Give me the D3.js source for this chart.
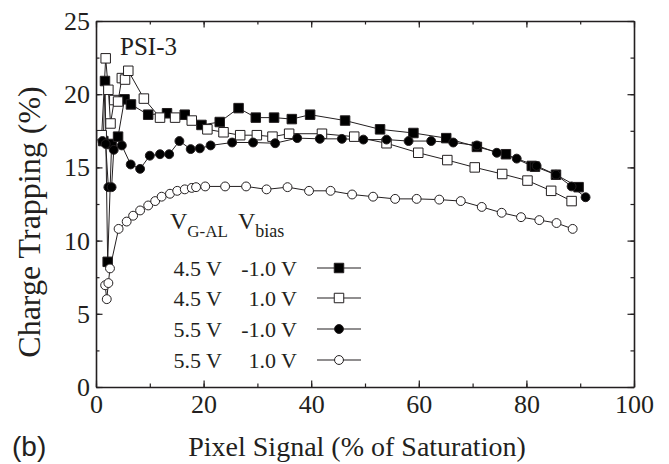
<!DOCTYPE html>
<html><head><meta charset="utf-8">
<script src="https://cdn.jsdelivr.net/npm/d3@7"></script>
<style>body{margin:0;background:#fff}svg{display:block}
svg text{font-family:"Liberation Serif","Times New Roman","DejaVu Serif",serif}
svg text.sans{font-family:"Liberation Sans",Arial,sans-serif}</style>
</head><body>
<svg id="c" width="669" height="464"></svg>
<script>
// 4.5 V, -1.0 V (filled squares)
const sqFilledX = [1.36,1.67,2.17,2.9,4.1,5.3,6.5,9.7,13.2,16.5,19.6,23.0,26.5,29.7,33.1,36.4,39.8,46.3,52.8,59.0,65.1,70.8,76.2,81.0,81.6,85.5,89.7];
const sqFilledY = [16.8,20.9,8.55,16.6,17.1,19.65,19.3,18.6,18.7,18.6,17.9,18.1,19.05,18.4,18.4,18.3,18.6,18.2,17.6,17.35,17.0,16.4,15.9,15.1,15.05,14.5,13.65];
// 4.5 V, 1.0 V (open squares)
const sqOpenX = [1.06,1.8,2.3,2.7,3.4,4.1,4.8,5.4,6.0,8.9,11.9,14.7,17.8,20.7,23.7,26.8,29.9,32.8,35.9,42.0,48.0,54.0,59.9,65.3,70.4,75.5,80.2,84.6,88.4];
const sqOpenY = [17.2,22.45,20.3,18.0,19.6,19.5,21.1,21.0,21.6,19.7,18.4,18.4,18.2,17.6,17.4,17.2,17.2,17.1,17.3,17.3,17.1,16.65,16.0,15.5,15.0,14.55,14.1,13.4,12.7];
// 5.5 V, -1.0 V (filled circles)
const ciFilledX = [1.2,1.8,2.3,2.9,3.3,4.8,6.45,8.2,10.0,11.9,13.6,15.5,17.6,19.3,21.3,25.3,29.2,33.3,37.4,41.6,45.7,49.7,54.0,58.1,62.3,66.4,70.8,74.5,78.2,81.9,85.5,88.4,91.0];
const ciFilledY = [16.8,16.6,13.65,13.65,16.2,16.5,15.2,14.9,15.8,15.9,15.9,16.8,16.25,16.3,16.5,16.7,16.7,16.65,17.0,16.95,16.95,16.9,16.9,16.8,16.8,16.7,16.5,16.0,15.6,15.1,14.5,13.7,12.96];
// 5.5 V, 1.0 V (open circles)
const ciOpenX = [1.7,2.0,2.3,2.6,4.2,5.7,6.9,8.2,9.7,11.0,12.2,13.75,15.1,16.5,17.8,18.6,20.3,24.0,27.9,31.7,35.6,39.6,43.6,47.6,51.5,55.6,59.6,63.8,67.8,71.7,75.4,79.0,82.4,85.6,88.6];
const ciOpenY = [6.95,6.0,7.1,8.1,10.8,11.3,11.7,12.06,12.4,12.7,13.0,13.2,13.4,13.5,13.6,13.65,13.7,13.7,13.7,13.5,13.65,13.4,13.4,13.15,13.0,12.85,12.85,12.8,12.7,12.3,11.9,11.6,11.4,11.2,10.8];

const legendVgal = ["4.5 V","4.5 V","5.5 V","5.5 V"];
const legendVbias = ["-1.0 V","1.0 V","-1.0 V","1.0 V"];
const xTicks = [0,20,40,60,80,100];
const yTicks = [0,5,10,15,20,25];

const series = [
  {x: sqFilledX, y: sqFilledY, shape: "square", fill: "#000"},
  {x: sqOpenX, y: sqOpenY, shape: "square", fill: "#fff"},
  {x: ciFilledX, y: ciFilledY, shape: "circle", fill: "#000"},
  {x: ciOpenX, y: ciOpenY, shape: "circle", fill: "#fff"}
];

const svg = d3.select("#c");
const L = 96, R = 634, T = 21, B = 387;
const x = d3.scaleLinear().domain([0,100]).range([L,R]);
const y = d3.scaleLinear().domain([0,25]).range([B,T]);
const ink = "#231f20";

const minorX = d3.range(0,101,10), minorY = d3.range(0,25.1,2.5);
function ax(gen, scale, vals, size, pos, labels) {
  const g = svg.append("g").attr("transform", pos)
    .call(gen(scale).tickValues(vals).tickSize(size).tickSizeOuter(0).tickFormat(labels ? d3.format("d") : ""));
  g.attr("font-family", null);
  g.select(".domain").attr("stroke", ink).attr("stroke-width", 1.6);
  g.selectAll(".tick line").attr("stroke", ink).attr("stroke-width", 1.2);
  g.selectAll("text").style("font-size", "26px").attr("fill", ink);
  return g;
}
ax(d3.axisBottom, x, minorX, -3.5, `translate(0,${B})`, false).select(".domain").remove();
const gb = ax(d3.axisBottom, x, xTicks, -6.5, `translate(0,${B})`, true);
gb.selectAll("text").attr("y", 26).attr("dy", 0);
ax(d3.axisTop, x, minorX, -3.5, `translate(0,${T})`, false).select(".domain").remove();
ax(d3.axisTop, x, xTicks, -6.5, `translate(0,${T})`, false);
ax(d3.axisLeft, y, minorY, -3.5, `translate(${L},0)`, false).select(".domain").remove();
const gl = ax(d3.axisLeft, y, yTicks, -6.5, `translate(${L},0)`, true);
gl.selectAll("text").attr("x", -6).attr("dy", "0.33em");
ax(d3.axisRight, y, minorY, -3.5, `translate(${R},0)`, false).select(".domain").remove();
ax(d3.axisRight, y, yTicks, -6.5, `translate(${R},0)`, false);

const line = d3.line().x(d => x(d[0])).y(d => y(d[1]));
const symSq = d3.symbol().type(d3.symbolSquare).size(90);
const symCi = d3.symbol().type(d3.symbolCircle).size(62);
series.forEach(s => {
  const pts = s.x.map((v,i) => [v, s.y[i]]);
  svg.append("path").datum(pts).attr("d", line).attr("fill","none").attr("stroke", ink).attr("stroke-width", 1);
});
series.forEach(s => {
  const pts = s.x.map((v,i) => [v, s.y[i]]);
  svg.append("g").selectAll("path").data(pts).join("path")
    .attr("transform", d => `translate(${x(d[0])},${y(d[1])})`)
    .attr("d", s.shape === "square" ? symSq : symCi)
    .attr("fill", s.fill).attr("stroke", ink).attr("stroke-width", 1);
});

function txt(xp, yp, size) {
  return svg.append("text").attr("x", xp).attr("y", yp).style("font-size", size + "px").attr("fill", ink);
}
const hdr = txt(170, 229, 24);
hdr.append("tspan").text("V");
hdr.append("tspan").style("font-size", "17px").attr("dy", 8).text("G-AL");
const hdr2 = txt(238, 229, 24);
hdr2.append("tspan").text("V");
hdr2.append("tspan").style("font-size", "18px").attr("dy", 8).text("bias");
const rowY = [268, 298, 329, 360];
series.forEach((s,i) => {
  const yy = rowY[i];
  txt(222, yy, 22).attr("dy","0.35em").attr("text-anchor","end").text(legendVgal[i]);
  txt(297, yy, 22).attr("dy","0.35em").attr("text-anchor","end").text(legendVbias[i]);
  svg.append("line").attr("x1", 317).attr("x2", 361).attr("y1", yy).attr("y2", yy).attr("stroke", ink).attr("stroke-width", 1.2);
  svg.append("path").attr("transform", `translate(339,${yy})`).attr("d", s.shape === "square" ? symSq : symCi)
    .attr("fill", s.fill).attr("stroke", ink).attr("stroke-width", 1);
});

txt(120, 55, 25).text("PSI-3");
svg.append("text").attr("transform", `translate(40,222) rotate(-90)`).attr("text-anchor","middle")
  .style("font-size", "32px").attr("fill", ink).text("Charge Trapping (%)");
txt(357, 456, 28).attr("text-anchor","middle").text("Pixel Signal (% of Saturation)");
txt(12, 456, 28).attr("class", "sans").text("(b)");
</script>
</body></html>
